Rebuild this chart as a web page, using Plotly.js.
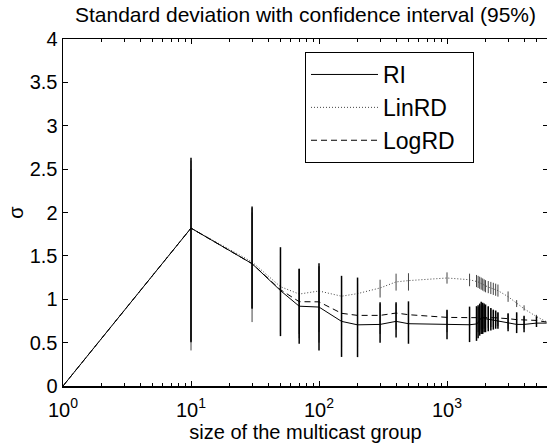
<!DOCTYPE html>
<html>
<head>
<meta charset="utf-8">
<script src="https://cdn.plot.ly/plotly-3.0.1.min.js"></script>
<style>
html,body{margin:0;padding:0;overflow:hidden;background:#fff;}
#chart{width:548px;height:444px;}
</style>
</head>
<body>
<div id="chart"></div>
<script>
// multicast group sizes
const groupSize = [1, 10, 30, 50, 70, 100, 150, 200, 300, 400, 500, 1000, 1500, 1700, 1750, 1800, 1850, 1900, 1950, 2000, 2100, 2200, 2300, 2400, 2500, 3000, 3500, 4000, 5000, 6000];

// RI
const riSigma = [0, 1.82, 1.41, 1.10, 0.92, 0.91, 0.745, 0.705, 0.71, 0.745, 0.718, 0.706, 0.706, 0.715, 0.73, 0.76, 0.785, 0.79, 0.78, 0.775, 0.77, 0.765, 0.76, 0.755, 0.748, 0.725, 0.71, 0.71, 0.725, 0.725];
const riLow   = [0, 0.505, 0.89, 0.575, 0.487, 0.41, 0.335, 0.333, 0.50, 0.56, 0.487, 0.54, 0.506, 0.52, 0.55, 0.58, 0.60, 0.60, 0.62, 0.62, 0.63, 0.64, 0.65, 0.66, 0.66, 0.63, 0.61, 0.62, 0.68, 0.725];
const riHigh  = [0, 2.63, 2.07, 1.60, 1.353, 1.415, 1.27, 1.25, 0.965, 0.965, 0.976, 0.88, 0.915, 0.92, 0.93, 0.95, 0.97, 0.96, 0.95, 0.94, 0.92, 0.90, 0.88, 0.87, 0.85, 0.84, 0.85, 0.81, 0.80, 0.725];

// LinRD
const linSigma = [0, 1.82, 1.43, 1.145, 1.06, 1.095, 1.035, 1.065, 1.13, 1.2, 1.215, 1.245, 1.225, 1.21, 1.2, 1.19, 1.18, 1.17, 1.16, 1.15, 1.14, 1.13, 1.12, 1.11, 1.10, 1.03, 0.95, 0.89, 0.80, 0.74];
const linLow   = [0, 0.41, 0.737, 0.62, 0.6, 0.62, 0.58, 0.6, 1.02, 1.10, 1.10, 1.18, 1.15, 1.14, 1.13, 1.12, 1.11, 1.10, 1.09, 1.08, 1.07, 1.06, 1.05, 1.04, 1.03, 0.97, 0.91, 0.87, 0.78, 0.74];
const linHigh  = [0, 2.5, 2.0, 1.5, 1.35, 1.38, 1.25, 1.24, 1.225, 1.295, 1.30, 1.31, 1.295, 1.28, 1.27, 1.26, 1.25, 1.24, 1.23, 1.22, 1.21, 1.20, 1.19, 1.18, 1.17, 1.09, 0.99, 0.93, 0.82, 0.74];

// LogRD
const logSigma = [0, 1.82, 1.41, 1.11, 0.972, 0.97, 0.838, 0.814, 0.814, 0.841, 0.822, 0.791, 0.788, 0.79, 0.79, 0.79, 0.79, 0.79, 0.79, 0.79, 0.79, 0.788, 0.787, 0.786, 0.785, 0.776, 0.765, 0.764, 0.756, 0.737];
const logLow   = [0, 0.52, 0.9, 0.6, 0.55, 0.5, 0.45, 0.45, 0.6, 0.65, 0.62, 0.62, 0.6, 0.6, 0.62, 0.64, 0.65, 0.65, 0.66, 0.66, 0.67, 0.68, 0.68, 0.69, 0.69, 0.66, 0.65, 0.66, 0.70, 0.737];
const logHigh  = [0, 2.6, 2.05, 1.58, 1.35, 1.38, 1.22, 1.18, 0.95, 0.95, 0.96, 0.87, 0.9, 0.9, 0.91, 0.92, 0.93, 0.93, 0.93, 0.92, 0.91, 0.89, 0.87, 0.86, 0.84, 0.83, 0.84, 0.80, 0.79, 0.737];

const seriesNames = ['RI', 'LinRD', 'LogRD'];
const xTickVals = [1, 10, 100, 1000];
const xTickText = ['10<sup>0</sup>', '10<sup>1</sup>', '10<sup>2</sup>', '10<sup>3</sup>'];
const xMinorVals = [2,3,4,5,6,7,8,9,20,30,40,50,60,70,80,90,200,300,400,500,600,700,800,900,2000,3000,4000,5000];
const yTickVals = [0, 0.5, 1, 1.5, 2, 2.5, 3, 3.5, 4];
const yTickText = ['0', '0.5', '1', '1.5', '2', '2.5', '3', '3.5', '4'];

function errs(y, lo, hi, color, thick) {
  return {
    type: 'data', symmetric: false,
    array: hi.map((h, i) => Math.max(0, h - y[i])),
    arrayminus: lo.map((l, i) => Math.max(0, y[i] - l)),
    width: 0, thickness: thick, color: color
  };
}

const FONT = 'Liberation Sans, Arial, Helvetica, sans-serif';

const traces = [
  {
    x: groupSize, y: linSigma, name: seriesNames[1], type: 'scatter', mode: 'lines',
    line: {color: '#444', width: 1, dash: '1px,2px'},
    error_y: errs(linSigma, linLow, linHigh, '#444', 1),
    legendrank: 2
  },
  {
    x: groupSize, y: logSigma, name: seriesNames[2] + '\u00a0\u00a0', type: 'scatter', mode: 'lines',
    line: {color: '#000', width: 1, dash: '6px,4px'},
    error_y: errs(logSigma, logLow, logHigh, '#333', 1),
    legendrank: 3
  },
  {
    x: groupSize, y: riSigma, name: seriesNames[0], type: 'scatter', mode: 'lines',
    line: {color: '#000', width: 1},
    error_y: errs(riSigma, riLow, riHigh, '#000', 1.5),
    legendrank: 1
  }
];

const layout = {
  width: 548, height: 444,
  margin: {l: 63, r: 0, t: 39, b: 58, pad: 0},
  paper_bgcolor: '#fff', plot_bgcolor: '#fff',
  font: {family: FONT, color: '#000', size: 20},
  title: {
    text: 'Standard deviation with confidence interval (95%)',
    font: {family: FONT, size: 21, color: '#000'},
    x: 0.5, xref: 'paper', y: 0.967, yref: 'container', yanchor: 'middle'
  },
  xaxis: {
    type: 'log', range: [0, 3.789],
    tickmode: 'array', tickvals: xTickVals, ticktext: xTickText,
    ticks: 'inside', ticklen: 5, tickwidth: 1, tickcolor: '#000',
    ticklabelstandoff: 5,
    minor: {tickmode: 'array', tickvals: xMinorVals, ticks: 'inside', ticklen: 3, tickwidth: 1, tickcolor: '#000'},
    showline: true, linecolor: '#000', linewidth: 1.5, mirror: 'ticks',
    showgrid: false, zeroline: false,
    tickfont: {family: FONT, size: 20, color: '#000'},
    title: {text: 'size of the multicast group', font: {family: FONT, size: 20, color: '#000'}, standoff: 4}
  },
  yaxis: {
    range: [0, 4], tickmode: 'array', tickvals: yTickVals, ticktext: yTickText,
    ticks: 'inside', ticklen: 5, tickwidth: 1, tickcolor: '#000',
    showline: true, linecolor: '#000', linewidth: 1.5, mirror: 'ticks',
    showgrid: false, zeroline: false,
    tickfont: {family: FONT, size: 20, color: '#000'},
    title: {text: 'σ', font: {family: FONT, size: 20, color: '#000'}, standoff: 0}
  },
  showlegend: true,
  legend: {
    x: 0.499, y: 0.9625, xanchor: 'left', yanchor: 'top',
    bgcolor: '#fff', bordercolor: '#000', borderwidth: 1,
    font: {family: FONT, size: 23, color: '#000'},
    itemwidth: 67, tracegroupgap: 0
  }
};

Plotly.newPlot('chart', traces, layout, {staticPlot: true, displayModeBar: false});
</script>
</body>
</html>
